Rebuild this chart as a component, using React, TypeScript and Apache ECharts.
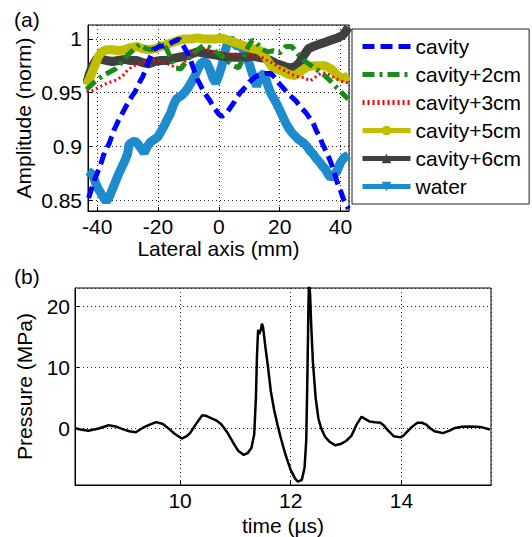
import React, { useEffect, useRef } from 'react';
import * as echarts from 'echarts';

const FONT = '"Liberation Sans", Arial, Helvetica, sans-serif';

const seriesNames = ['cavity', 'cavity+2cm', 'cavity+3cm', 'cavity+5cm', 'cavity+6cm', 'water'];

// Panel (a): [lateral position (mm), normalised amplitude]
const cavity: [number, number][] = [
  [-42.8, 0.852], [-41, 0.868], [-39, 0.882], [-37.5, 0.895], [-36, 0.903], [-34.5, 0.915], [-33, 0.924],
  [-31.5, 0.932], [-30, 0.94], [-28.5, 0.947], [-27.5, 0.951], [-26, 0.96], [-25, 0.965], [-24, 0.972],
  [-23, 0.98], [-21.5, 0.99], [-19.5, 0.993], [-17.5, 0.994], [-16, 0.996], [-14.5, 0.998], [-13, 1.0],
  [-11.5, 0.993], [-10, 0.985], [-9, 0.978], [-8, 0.97], [-7, 0.962], [-6, 0.957], [-5, 0.951], [-4, 0.947],
  [-3, 0.943], [-2, 0.938], [-1, 0.934], [0, 0.93], [1, 0.928], [2, 0.93], [3, 0.933], [4, 0.937], [5, 0.941],
  [6, 0.946], [7, 0.95], [8, 0.953], [9, 0.956], [10, 0.96], [11, 0.962], [12, 0.965], [13, 0.966], [14, 0.967],
  [15.5, 0.968], [17, 0.968], [18.5, 0.964], [20, 0.958], [21, 0.955], [22.5, 0.95], [24, 0.946], [25.5, 0.942],
  [27, 0.936], [28.5, 0.932], [30, 0.926], [31, 0.922], [32, 0.915], [33, 0.91], [34, 0.903], [35, 0.897],
  [36, 0.891], [37, 0.884], [38, 0.875], [39, 0.866], [40, 0.859], [41, 0.851], [42.6, 0.842],
];
const cavity2cm: [number, number][] = [
  [-43.5, 0.953], [-42, 0.957], [-40, 0.962], [-38, 0.966], [-36, 0.969], [-34, 0.972], [-32, 0.978],
  [-30, 0.985], [-28, 0.99], [-26, 0.995], [-24, 0.991], [-22, 0.99], [-20, 0.994], [-18.5, 0.996],
  [-17, 0.99], [-15.5, 0.98], [-14, 0.973], [-12.5, 0.972], [-11, 0.978], [-9, 0.985], [-7, 0.99],
  [-5, 0.994], [-3, 0.992], [-1, 0.988], [1, 0.984], [3, 0.979], [5, 0.975], [6.5, 0.973], [8, 0.982],
  [9.5, 0.992], [11, 0.999], [12.5, 0.996], [14, 0.991], [16, 0.988], [18, 0.989], [20, 0.987], [22, 0.993],
  [24, 0.993], [26, 0.986], [28, 0.98], [30, 0.976], [32, 0.972], [34, 0.968], [36, 0.963], [38, 0.957],
  [40, 0.951], [42.6, 0.944],
];
const cavity3cm: [number, number][] = [
  [-43.5, 0.951], [-41.5, 0.952], [-39.5, 0.955], [-37.5, 0.958], [-35.5, 0.96], [-33.5, 0.962], [-31.5, 0.966],
  [-30, 0.971], [-28, 0.975], [-26, 0.977], [-24, 0.979], [-22, 0.98], [-20, 0.98], [-18, 0.978], [-16, 0.976],
  [-14, 0.973], [-12, 0.976], [-10, 0.983], [-8, 0.99], [-6, 0.992], [-4, 0.99], [-2, 0.988], [0, 0.987],
  [2, 0.986], [4, 0.985], [6, 0.985], [8, 0.986], [10, 0.985], [12, 0.984], [14, 0.983], [16, 0.98], [18, 0.977],
  [20, 0.973], [22, 0.97], [24, 0.967], [26, 0.965], [28, 0.964], [30, 0.961], [32, 0.965], [34, 0.969],
  [36, 0.967], [38, 0.964], [40, 0.961], [42.6, 0.959],
];
const cavity5cm: [number, number][] = [
  [-43.5, 0.957], [-42.5, 0.963], [-41.5, 0.97], [-40.5, 0.977], [-39.5, 0.984], [-38.5, 0.988], [-37, 0.99],
  [-35, 0.99], [-33, 0.989], [-31, 0.99], [-29, 0.992], [-27, 0.993], [-25, 0.991], [-23, 0.99], [-21, 0.991],
  [-19, 0.993], [-17, 0.995], [-15, 0.997], [-13, 0.999], [-11, 1.0], [-9, 1.0], [-7, 1.001], [-5, 1.0],
  [-3, 1.0], [-1, 1.0], [1, 1.001], [3, 0.999], [5, 0.997], [7, 0.995], [9, 0.993], [11, 0.991], [13, 0.99],
  [14.5, 0.987], [16, 0.98], [17.5, 0.974], [19, 0.972], [21, 0.97], [23, 0.967], [25, 0.966], [27, 0.97],
  [29, 0.974], [31, 0.975], [33, 0.975], [35, 0.975], [37, 0.972], [39, 0.966], [41, 0.963], [42.6, 0.966],
];
const cavity6cm: [number, number][] = [
  [-43.5, 0.958], [-42.5, 0.968], [-41.5, 0.975], [-40, 0.982], [-38.5, 0.981], [-37, 0.98], [-35, 0.979],
  [-33, 0.98], [-31, 0.981], [-29, 0.98], [-27, 0.98], [-25, 0.978], [-23, 0.977], [-21, 0.979], [-19, 0.98],
  [-17, 0.98], [-15, 0.982], [-13, 0.983], [-11, 0.984], [-9, 0.986], [-7, 0.988], [-5, 0.987], [-3, 0.986],
  [-1, 0.985], [1, 0.984], [3, 0.983], [5, 0.983], [7, 0.983], [9, 0.983], [11, 0.984], [13, 0.983],
  [15, 0.982], [17, 0.98], [19, 0.977], [21, 0.975], [23, 0.973], [25, 0.974], [26.5, 0.978], [28, 0.985],
  [29.5, 0.991], [31, 0.993], [33, 0.995], [35, 0.997], [37, 0.999], [39, 1.001], [40.5, 1.003], [41.5, 1.006],
  [42.6, 1.011],
];
const water: [number, number][] = [
  [-43, 0.877], [-41.5, 0.874], [-40.5, 0.866], [-39.5, 0.86], [-38, 0.853], [-37, 0.849], [-36, 0.853],
  [-35, 0.86], [-34, 0.867], [-33, 0.874], [-32, 0.88], [-31, 0.886], [-30, 0.893], [-29.5, 0.902],
  [-28.5, 0.904], [-27.5, 0.905], [-26.5, 0.902], [-25.5, 0.898], [-24.5, 0.894], [-23.5, 0.9], [-22.5, 0.904],
  [-21, 0.907], [-20, 0.909], [-19, 0.914], [-18, 0.919], [-17, 0.925], [-16, 0.93], [-15, 0.938], [-14, 0.944],
  [-13, 0.946], [-12, 0.948], [-11, 0.951], [-10, 0.955], [-9, 0.96], [-8, 0.965], [-7, 0.971], [-6, 0.977],
  [-5, 0.979], [-4, 0.978], [-3, 0.972], [-2, 0.964], [-1, 0.959], [0, 0.966], [1, 0.975], [2, 0.988],
  [3, 0.997], [3.8, 1.0], [5, 0.996], [6, 0.993], [7, 0.994], [8, 0.99], [9, 0.985], [10, 0.977], [11, 0.968],
  [11.7, 0.962], [12.4, 0.956], [13.2, 0.962], [14, 0.966], [15, 0.968], [16, 0.958], [17, 0.95], [18, 0.945],
  [19, 0.94], [20, 0.934], [21, 0.928], [22, 0.922], [23, 0.917], [24, 0.913], [25, 0.91], [26, 0.907],
  [27, 0.905], [28, 0.903], [29, 0.9], [30, 0.896], [31, 0.893], [32, 0.889], [33, 0.886], [34, 0.882],
  [35, 0.879], [36, 0.874], [36.8, 0.871], [37.8, 0.873], [39, 0.878], [40, 0.885], [41, 0.889], [42.6, 0.892],
];

// Panel (b): time (µs) and pressure (MPa)
const timeUs = [
  8.1, 8.2, 8.34, 8.53, 8.71, 8.83, 8.95, 9.08, 9.2, 9.32, 9.45, 9.57, 9.69, 9.8, 9.9, 10.03, 10.12, 10.18,
  10.28, 10.4, 10.48, 10.55, 10.65, 10.74, 10.86, 10.98, 11.05, 11.15, 11.22, 11.29, 11.34, 11.37, 11.39,
  11.41, 11.43, 11.46, 11.48, 11.5, 11.54, 11.59, 11.64, 11.7, 11.76, 11.82, 11.9, 12.0, 12.08, 12.13, 12.2,
  12.25, 12.28, 12.3, 12.32, 12.33, 12.35, 12.37, 12.4, 12.45, 12.5, 12.55, 12.62, 12.7, 12.8, 12.9, 13.0,
  13.1, 13.19, 13.28, 13.35, 13.43, 13.52, 13.62, 13.68, 13.74, 13.86, 13.99, 14.05, 14.11, 14.2, 14.29,
  14.37, 14.45, 14.52, 14.6, 14.75, 14.87, 14.97, 15.1, 15.21, 15.35, 15.46, 15.6,
];
const pressureMPa = [
  0.0, -0.2, -0.4, -0.05, 0.5, 0.3, -0.1, -0.5, -0.65, 0.05, 0.6, 1.0, 0.7, -0.1, -0.9, -1.7, -1.3, -0.8,
  0.6, 2.15, 2.0, 1.7, 1.3, 0.7, -0.8, -2.7, -3.7, -4.4, -4.1, -3.2, -1.0, 5.0, 12.0,
  16.2, 15.5, 16.2, 17.2, 16.6, 13.5, 10.0, 6.1, 3.0, 0.6, -1.6, -4.2, -6.9, -8.3, -8.8, -8.5,
  -6.5, -2.0, 8.0, 20.0, 24.5, 22.0, 17.0, 11.0, 5.0, 1.6, 0.0, -1.4, -2.2, -2.8, -2.6, -2.1,
  -1.2, 0.6, 1.9, 1.5, 1.1, 1.0, 0.9, 0.5, -0.2, -1.3, -1.5, -1.1, -0.5, 0.3, 0.9,
  0.9, 0.6, 0.0, -0.5, -0.8, -0.4, 0.05, 0.25, 0.3, 0.25, 0.15, -0.2,
];

const topSeriesData = [cavity, cavity2cm, cavity3cm, cavity5cm, cavity6cm, water];
const colors = ['#0000ff', '#1a8a1a', '#ff0000', '#bfbf00', '#404040', '#1e8bcd'];
const lineWidths = [5, 5, 3, 9, 9, 9];
const lineTypes: any[] = [[12, 6], [12, 5, 3, 5], [2, 3], 'solid', 'solid', 'solid'];
const symbols = ['none', 'none', 'none', 'circle', 'triangle', 'path://M0,0 L10,0 L5,9 Z'];

const axisText = { color: '#000', fontSize: 21, fontFamily: FONT };
const dotted = { show: true, lineStyle: { color: '#222', type: [1, 3] as any, width: 1 } };
const axisLine = { show: true, onZero: false, lineStyle: { color: '#000' } };
const axisTick = { show: true, inside: true, length: 4, lineStyle: { color: '#000' } };

export default function App() {
  const ref = useRef<HTMLDivElement>(null);
  useEffect(() => {
    const chart = echarts.init(ref.current!, null, { renderer: 'svg' });
    const topSeries = seriesNames.map((name, i) => ({
      name,
      type: 'line',
      xAxisIndex: 0,
      yAxisIndex: 0,
      data: topSeriesData[i],
      symbol: symbols[i],
      symbolSize: 9,
      showSymbol: false,
      z: 10 - i,
      itemStyle: { color: colors[i], opacity: symbols[i] === 'none' ? 0 : 1 },
      lineStyle: { color: colors[i], width: lineWidths[i], type: lineTypes[i], cap: 'butt', opacity: 1 },
      emphasis: { disabled: true },
    }));
    chart.setOption({
      animation: false,
      backgroundColor: '#fff',
      title: [
        { text: '(a)', left: 14, top: 9, padding: 0, textStyle: { ...axisText, fontWeight: 'normal' } },
        { text: '(b)', left: 14, top: 266, padding: 0, textStyle: { ...axisText, fontWeight: 'normal' } },
      ],
      legend: {
        data: seriesNames,
        orient: 'vertical',
        left: 352,
        top: 29,
        padding: [7, 8, 7, 8],
        itemWidth: 48,
        itemHeight: 12,
        itemGap: 7,
        backgroundColor: '#fff',
        borderColor: '#222',
        borderWidth: 1,
        borderRadius: 0,
        selectedMode: false,
        lineStyle: { width: 5 },
        textStyle: { ...axisText },
      },
      grid: [
        { left: 88, top: 25, width: 261, height: 186, show: true, borderColor: '#000', borderWidth: 1, backgroundColor: 'transparent' },
        { left: 75, top: 288, width: 416, height: 200, show: true, borderColor: '#000', borderWidth: 1, backgroundColor: 'transparent' },
      ],
      xAxis: [
        {
          type: 'value', gridIndex: 0, min: -43, max: 42.8, splitNumber: 4, minInterval: 20, maxInterval: 20,
          name: 'Lateral axis (mm)', nameLocation: 'middle', nameGap: 12, nameTextStyle: axisText,
          axisLine, axisTick,
          axisLabel: { ...axisText, margin: 5, showMinLabel: false, showMaxLabel: false },
          splitLine: dotted,
        },
        {
          type: 'value', gridIndex: 1, min: 8.1, max: 15.62, splitNumber: 4, minInterval: 2, maxInterval: 2,
          name: 'time (µs)', nameLocation: 'middle', nameGap: 30, nameTextStyle: axisText,
          axisLine, axisTick,
          axisLabel: { ...axisText, margin: 5, showMinLabel: false, showMaxLabel: false },
          splitLine: dotted,
        },
      ],
      yAxis: [
        {
          type: 'value', gridIndex: 0, min: 0.84, max: 1.013, splitNumber: 3, minInterval: 0.05, maxInterval: 0.05,
          name: 'Amplitude (norm)', nameLocation: 'middle', nameGap: 54, nameTextStyle: axisText,
          axisLine, axisTick,
          axisLabel: { ...axisText, margin: 6, showMinLabel: false, showMaxLabel: false },
          splitLine: dotted,
        },
        {
          type: 'value', gridIndex: 1, min: -9.34, max: 23.08, splitNumber: 3, minInterval: 10, maxInterval: 10,
          name: 'Pressure (MPa)', nameLocation: 'middle', nameGap: 40, nameTextStyle: axisText,
          axisLine, axisTick,
          axisLabel: { ...axisText, margin: 5, showMinLabel: false, showMaxLabel: false },
          splitLine: dotted,
        },
      ],
      series: [
        ...topSeries,
        {
          name: 'pressure',
          type: 'line',
          xAxisIndex: 1,
          yAxisIndex: 1,
          data: timeUs.map((t, i) => [t, pressureMPa[i]]),
          showSymbol: false,
          symbol: 'none',
          lineStyle: { color: '#000', width: 2.5 },
          emphasis: { disabled: true },
        },
      ],
    });
    return () => chart.dispose();
  }, []);
  return (
    <div
      ref={ref}
      style={{ position: 'fixed', left: 0, top: 0, width: 532, height: 537, background: '#fff' }}
    />
  );
}
